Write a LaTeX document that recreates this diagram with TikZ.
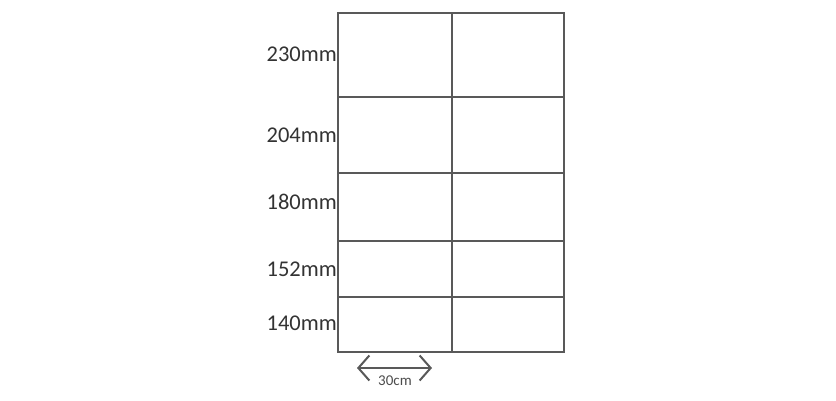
\documentclass[tikz,border=0pt]{standalone}
\usepackage{fontspec}
\setmainfont{Carlito}
\usetikzlibrary{arrows.meta,positioning}

\begin{document}
\begin{tikzpicture}[x=1pt,y=-1pt,>={Straight Barb[length=11pt,width=25pt]}]
	\tikzstyle{cell}=[draw=black!65, line width=1.7pt]
	\tikzstyle{size}=[anchor=east, inner sep=0pt, text=black!80, font=\fontsize{22.5}{22.5}\selectfont]
	\tikzstyle{width}=[inner sep=0pt, text=black!70, font=\fontsize{15}{15}\selectfont]

	\useasboundingbox (0,0) rectangle (836,400);

	% shelf grid
	\draw[cell] (338,13) rectangle (564,352);
	\draw[cell] (452,13) -- (452,352);
	\foreach \y in {97,173,241,297}
		\draw[cell] (338,\y) -- (564,\y);

	% row heights
	\node[size] (s230) at (337,54) {230mm};
	\node[size] (s204) at (337,135) {204mm};
	\node[size] (s180) at (337,202) {180mm};
	\node[size] (s152) at (337,269) {152mm};
	\node[size] (s140) at (337,323) {140mm};

	% column width
	\coordinate (wl) at (357,368);
	\coordinate (wr) at (432,368);
	\draw[cell,line width=2pt,<->] (wl) -- (wr);
	\node[width] (w30) at (395,381) {30cm};
\end{tikzpicture}
\end{document}
